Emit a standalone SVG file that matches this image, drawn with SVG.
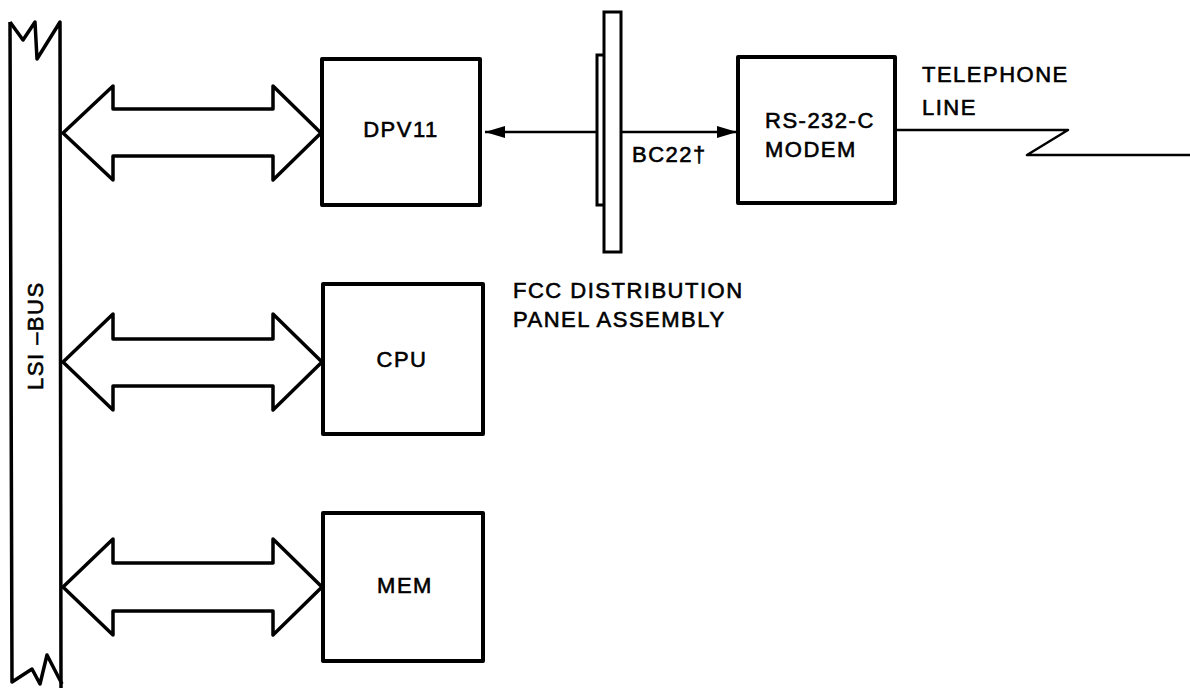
<svg xmlns="http://www.w3.org/2000/svg" width="1190" height="688" viewBox="0 0 1190 688">
<defs>
<style>
.box{fill:#fff;stroke:#000;stroke-width:4;stroke-linejoin:round}
.bus{fill:none;stroke:#000;stroke-width:3.5;stroke-linejoin:round}
.barrow{fill:#fff;stroke:#000;stroke-width:3.5;stroke-linejoin:round}
.ln{fill:none;stroke:#000;stroke-width:2.5}
.pn{fill:#fff;stroke:#000;stroke-width:3}
text{font-family:"Liberation Sans",Arial,sans-serif;fill:#000;stroke:#000;stroke-width:0.6;font-size:22px;letter-spacing:1.5px}
</style>
<marker id="ah" viewBox="0 0 20 12" refX="20" refY="6" markerWidth="20" markerHeight="12" markerUnits="userSpaceOnUse" orient="auto-start-reverse">
<path d="M0,0 L20,6 L0,12 Z" fill="#000"/>
</marker>
</defs>
<rect width="1190" height="688" fill="#fff"/>

<g id="lsi-bus">
<path class="bus" d="M10,22 L23,40 L35,22 L37,59 L60,22 L61,688"/>
<path class="bus" d="M10,22 L12,682 L32,669 L40,684 L47,655 L62,684"/>
<text transform="translate(43,390) rotate(-90)" font-size="21">LSI –BUS</text>
</g>

<g id="connectors">
<path class="barrow" d="M63,133 L113,86 L113,109 L273,109 L273,86 L321,133 L273,180 L273,156 L113,156 L113,180 Z"/>
<path class="barrow" d="M63,362 L113,314 L113,339 L273,339 L273,314 L322,362 L273,410 L273,386 L113,386 L113,410 Z"/>
<path class="barrow" d="M63,587 L113,539 L113,563 L273,563 L273,539 L322,587 L273,635 L273,611 L113,611 L113,635 Z"/>
<line class="ln" x1="597" y1="132" x2="485" y2="132" marker-end="url(#ah)"/>
<line class="ln" x1="621" y1="132" x2="737" y2="132" marker-end="url(#ah)"/>
<path class="ln" d="M895,130 L1068,130 L1027,155 L1190,155" stroke-linejoin="round"/>
</g>

<g id="dpv11">
<rect class="box" x="322" y="59" width="158" height="146"/>
<text x="401" y="137" text-anchor="middle">DPV11</text>
</g>

<g id="cpu">
<rect class="box" x="323" y="284" width="160" height="150"/>
<text x="402" y="367" text-anchor="middle">CPU</text>
</g>

<g id="mem">
<rect class="box" x="323" y="513" width="160" height="148"/>
<text x="405" y="593" text-anchor="middle" letter-spacing="3">MEM</text>
</g>

<g id="fcc-panel">
<rect class="pn" x="597" y="55" width="8" height="150"/>
<rect class="pn" x="604" y="12" width="17" height="240"/>
<text x="632" y="162" font-size="21">BC22†</text>
<text x="513" y="298" font-size="21">FCC DISTRIBUTION</text>
<text x="513" y="327" font-size="21">PANEL ASSEMBLY</text>
</g>

<g id="modem">
<rect class="box" x="738" y="57" width="157" height="146"/>
<text x="765" y="128" font-size="23" letter-spacing="1.3">RS-232-C</text>
<text x="765" y="157" font-size="23" letter-spacing="1.3">MODEM</text>
</g>

<g id="telephone-line">
<text x="922" y="82" font-size="21">TELEPHONE</text>
<text x="922" y="115" font-size="21">LINE</text>
</g>
</svg>
